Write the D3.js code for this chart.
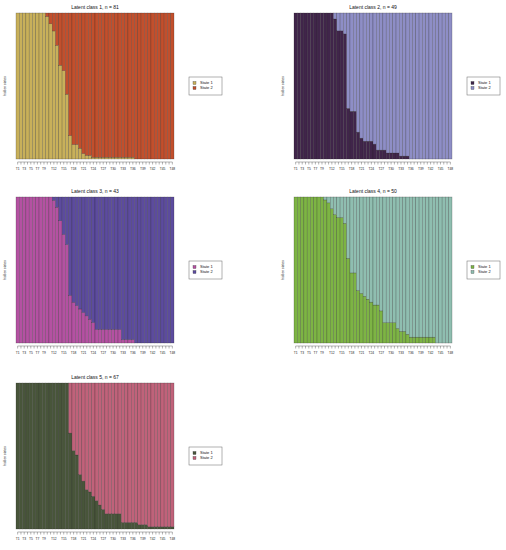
<!DOCTYPE html>
<html>
<head>
<meta charset="utf-8">
<script src="https://cdn.jsdelivr.net/npm/d3@7"></script>
<style>
  body { margin: 0; background: #fff; }
  svg { display: block; }
</style>
</head>
<body>
<div id="chart"></div>
<script>
const WIDTH = 506;
const HEIGHT = 550;
const FONT = "'Liberation Sans', Arial, Helvetica, sans-serif";

// time points and which of them get a label
const TIMES = d3.range(1, 49).map(i => `T${i}`);
const TICK_LABELS = ['T1', 'T3', 'T5', 'T7', 'T9', 'T12', 'T15', 'T18', 'T21', 'T24',
  'T27', 'T30', 'T33', 'T36', 'T39', 'T42', 'T45', 'T48'];
const STATES = ['State 1', 'State 2'];
const CLASS_N = [81, 49, 43, 50, 67];

// share of State 1 at each time point, per latent class
const CLASS1 = [1, 1, 1, 1, 1, 1, 1, 1, 1, 0.975, 0.926, 0.877, 0.778, 0.642, 0.605, 0.444,
  0.160, 0.099, 0.099, 0.074, 0.037, 0.025, 0.025, 0.012, 0.012, 0.012, 0.012, 0.012,
  0.012, 0.012, 0.012, 0.012, 0.012, 0.012, 0.012, 0.012, 0, 0, 0, 0, 0, 0, 0, 0, 0, 0, 0, 0];
const CLASS2 = [1, 1, 1, 1, 1, 1, 1, 1, 1, 1, 1, 1, 0.959, 0.878, 0.878, 0.857, 0.347,
  0.327, 0.327, 0.184, 0.143, 0.122, 0.122, 0.122, 0.102, 0.061, 0.061, 0.061, 0.041,
  0.041, 0.041, 0.041, 0.020, 0.020, 0.020, 0, 0, 0, 0, 0, 0, 0, 0, 0, 0, 0, 0, 0];
const CLASS3 = [1, 1, 1, 1, 1, 1, 1, 1, 1, 1, 1, 0.977, 0.930, 0.837, 0.744, 0.674, 0.326,
  0.279, 0.256, 0.233, 0.209, 0.186, 0.163, 0.140, 0.093, 0.093, 0.093, 0.093, 0.093,
  0.093, 0.093, 0.093, 0.023, 0.023, 0.023, 0.023, 0, 0, 0, 0, 0, 0, 0, 0, 0, 0, 0, 0];
const CLASS4 = [1, 1, 1, 1, 1, 1, 1, 1, 1, 0.98, 0.96, 0.92, 0.88, 0.86, 0.86, 0.82, 0.58,
  0.48, 0.48, 0.36, 0.34, 0.32, 0.30, 0.28, 0.26, 0.26, 0.22, 0.14, 0.14, 0.14, 0.14,
  0.10, 0.08, 0.08, 0.06, 0.04, 0.04, 0.04, 0.04, 0.04, 0.04, 0.04, 0.04, 0, 0, 0, 0, 0];
const CLASS5 = [1, 1, 1, 1, 1, 1, 1, 1, 1, 1, 1, 1, 1, 1, 1, 1, 0.657, 0.537, 0.507, 0.373,
  0.328, 0.269, 0.254, 0.224, 0.194, 0.164, 0.134, 0.104, 0.104, 0.104, 0.104, 0.104,
  0.045, 0.045, 0.045, 0.045, 0.045, 0.030, 0.030, 0.030, 0.015, 0.015, 0.015, 0.015,
  0.015, 0.015, 0.015, 0.015];

const CLASS_COLORS = [
  ['#c8b05a', '#c24f2c'],
  ['#40254a', '#8e8ec6'],
  ['#b451a2', '#5c4b9e'],
  ['#7db444', '#8fbeb0'],
  ['#48553a', '#c0627a']
];

// panel placement (plot area)
const PLOT_W = 158;
const PLOT_H = 146;
const COL_X = [16, 294];
const ROW_Y = [13, 197, 383];

const svg = d3.select('#chart')
  .append('svg')
  .attr('width', WIDTH)
  .attr('height', HEIGHT);

const drawPanel = (idx, shares) => {
  const x0 = COL_X[idx % 2];
  const y0 = ROW_Y[Math.floor(idx / 2)];
  const colors = CLASS_COLORS[idx];
  const g = svg.append('g').attr('transform', `translate(${x0}, ${y0})`);

  const xScale = d3.scaleBand().domain(TIMES).range([0, PLOT_W]).padding(0);
  const yScale = d3.scaleLinear().domain([0, 1]).range([PLOT_H, 0]);

  const rows = TIMES.map((t, i) => ({ t, p: shares[i] }));

  // state 1 at the bottom
  g.selectAll('.s1')
    .data(rows)
    .enter()
    .append('rect')
    .attr('x', d => xScale(d.t))
    .attr('width', xScale.bandwidth())
    .attr('y', d => yScale(d.p))
    .attr('height', d => PLOT_H - yScale(d.p))
    .attr('fill', colors[0])
    .attr('stroke', '#222')
    .attr('stroke-opacity', 0.55)
    .attr('stroke-width', 0.4);

  // state 2 stacked on top
  g.selectAll('.s2')
    .data(rows)
    .enter()
    .append('rect')
    .attr('x', d => xScale(d.t))
    .attr('width', xScale.bandwidth())
    .attr('y', 0)
    .attr('height', d => yScale(d.p))
    .attr('fill', colors[1])
    .attr('stroke', '#222')
    .attr('stroke-opacity', 0.55)
    .attr('stroke-width', 0.4);

  // x axis: a tick for every time point, labels on a subset
  const xAxis = d3.axisBottom(xScale)
    .tickSize(2.5)
    .tickSizeOuter(0)
    .tickFormat(t => TICK_LABELS.includes(t) ? t : '');
  const ax = g.append('g')
    .attr('transform', `translate(0, ${PLOT_H + 3})`)
    .call(xAxis);
  ax.select('.domain')
    .attr('stroke', '#444')
    .attr('stroke-width', 0.4)
    .attr('d', `M${xScale.bandwidth() / 2},0H${PLOT_W - xScale.bandwidth() / 2}`);
  ax.selectAll('.tick line').attr('stroke', '#444').attr('stroke-width', 0.4);
  ax.selectAll('.tick text')
    .attr('y', 6)
    .style('font-size', '3.3px')
    .style('font-family', FONT)
    .attr('fill', '#222');

  // title
  g.append('text')
    .attr('x', PLOT_W / 2)
    .attr('y', -4)
    .style('font-size', '5px')
    .style('font-family', FONT)
    .style('text-anchor', 'middle')
    .attr('fill', '#111')
    .text(`Latent class ${idx + 1}, n = ${CLASS_N[idx]}`);

  // y label
  g.append('text')
    .attr('transform', `translate(-10, ${PLOT_H / 2}) rotate(-90)`)
    .style('font-size', '3.3px')
    .style('font-family', FONT)
    .style('text-anchor', 'middle')
    .attr('fill', '#222')
    .text('hidden states');

  // legend
  const lg = g.append('g')
    .attr('transform', `translate(${PLOT_W + 15}, ${PLOT_H / 2 - 9})`);
  lg.append('rect')
    .attr('width', 33)
    .attr('height', 18)
    .attr('fill', '#fff')
    .attr('stroke', '#666')
    .attr('stroke-width', 0.5);
  STATES.forEach((s, i) => {
    lg.append('rect')
      .attr('x', 4)
      .attr('y', 4.5 + i * 5)
      .attr('width', 3)
      .attr('height', 3)
      .attr('fill', colors[i])
      .attr('stroke', '#333')
      .attr('stroke-width', 0.3);
    lg.append('text')
      .attr('x', 11)
      .attr('y', 7.3 + i * 5)
      .style('font-size', '4px')
      .style('font-family', FONT)
      .attr('fill', '#111')
      .text(s);
  });
};

[CLASS1, CLASS2, CLASS3, CLASS4, CLASS5].forEach((shares, i) => drawPanel(i, shares));
</script>
</body>
</html>
